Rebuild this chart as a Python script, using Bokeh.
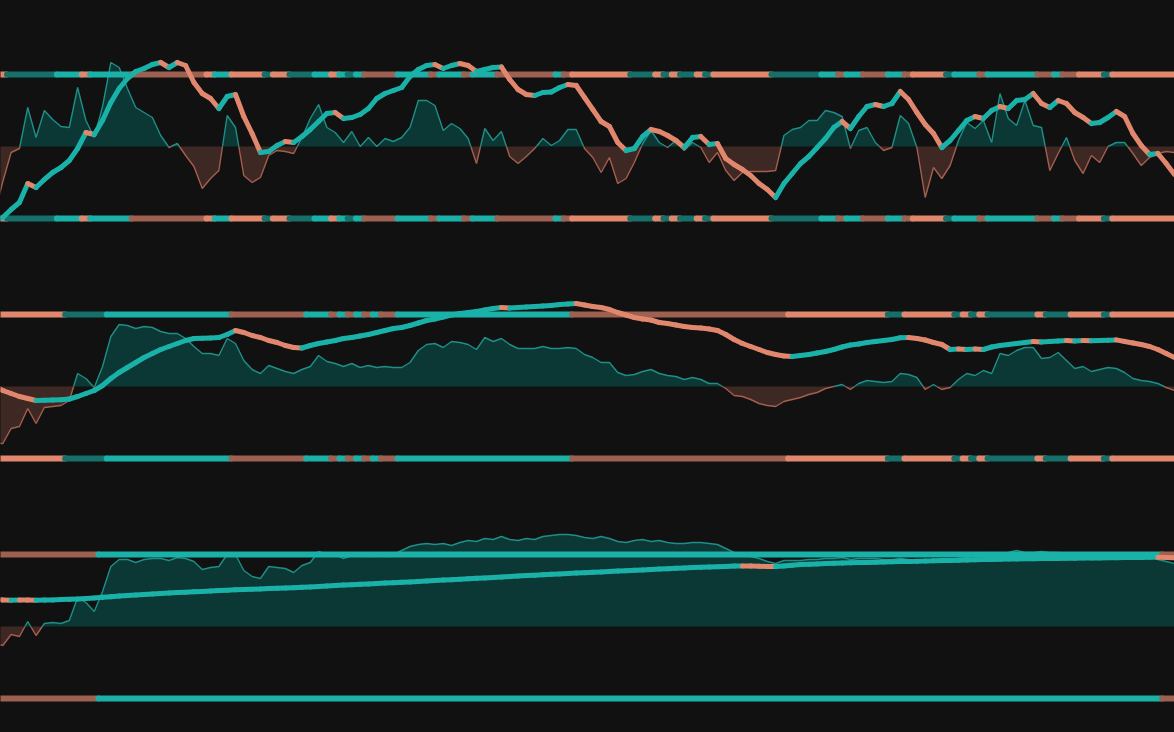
import math
from jinja2 import Template
from bokeh.plotting import figure
from bokeh.models import Range1d
from bokeh.embed import file_html
from bokeh.resources import INLINE

N = 143
IDX = list(range(N))
BAND_LEVEL = 72

# ---------------- panel 1 ----------------
OSC1 = [-68, -35, -6, -2, 39, 9, 36, 27, 20, 19,
        59, 26, 9, 40, 84, 79, 58, 39, 34, 29,
        11, -1, 3, -9, -20, -42, -32, -24, 31, 19,
        -29, -36, -31, -9, -4, -5, -7, 9, 28, 42,
        19, 14, 4, 15, 0, 9, 0, 8, 5, 9,
        19, 46, 46, 41, 16, 23, 18, 8, -17, 18,
        6, 15, -10, -17, -10, -2, 8, 1, 6, 17,
        17, -2, -11, -26, -11, -37, -32, -16, 3, 16,
        4, -1, 6, -4, 4, -1, -16, -6, -24, -34,
        -26, -25, -25, -25, -24, 11, 17, 19, 26, 26,
        36, 34, 30, -2, 16, 19, 4, -4, -1, 31,
        23, -1, -51, -21, -32, -19, 6, 24, 18, 26,
        4, 53, 28, 21, 46, 21, 19, -24, -7, 9,
        -14, -27, -9, -16, 0, 4, 4, -7, -19, -11,
        -7, -5, -6]
LINE1 = [-74, -71, -63, -56, -37, -41, -33, -26, -21, -14,
         -2, 14, 12, 26, 44, 58, 68, 75, 78, 82,
         84, 79, 84, 81, 64, 53, 48, 38, 50, 52,
         30, 13, -6, -5, 1, 5, 4, 10, 17, 25,
         33, 34, 28, 29, 32, 38, 48, 53, 56, 59,
         70, 77, 81, 82, 78, 81, 83, 81, 75, 77,
         79, 79.5, 67, 57, 52, 51, 54, 54.5, 59, 62,
         61, 49, 37, 25, 20, 4, -4, -2, 10, 17,
         15, 11, 6, -1, 9, 10, 2, 3, -12, -18,
         -23, -29, -37, -43, -51, -37, -27, -17, -10, -1,
         8, 19, 25, 18, 30, 40, 42, 40, 43, 55,
         47, 34, 22, 13, -1, 6, 16, 26, 30, 28,
         36, 40, 38, 46, 47, 53, 43, 39, 46, 43,
         34, 29, 23, 24, 29, 35, 30, 13, 1, -8,
         -7, -17, -28]
BAND1 = ("SS" "tttttt" "TTT" "S" "TTTTT" "sssssssss" "S" "TT" "SSSS" "t"
         "SS" "ttt" "TT" "S" "T" "t" "T" "ssss" "TTTT" "s" "TTT" "s" "TTT"
         "sssssss" "T" "s" "SSSSSSS" "ttt" "S" "t" "S" "tt" "S" "t"
         "SSSSSSS" "tttttt" "TT" "s" "TT" "sss" "TT" "s" "SSSS" "t" "TTT"
         "s" "TTTTTT" "ss" "T" "ss" "SSS" "t" "SSSSSSSS")

# ---------------- panel 2 ----------------
OSC2 = [-57, -57, -42, -40, -22, -37, -21, -20, -19, -14,
        13, 8, -1, 20, 50, 62, 61, 58, 60, 59,
        55, 53, 53, 48, 40, 33, 33, 31, 48, 43,
        26, 17, 13, 21, 18, 15, 13, 17, 20, 31,
        25, 23, 20, 23, 19, 21, 19, 20, 19, 19,
        24, 36, 42, 43, 39, 45, 44, 42, 37, 49,
        45, 48, 42, 38, 38, 38, 40, 38, 38, 39,
        38, 32, 29, 24, 24, 14, 11, 12, 15, 17,
        13, 11, 10, 7, 9, 7, 3, 3, -2, -9,
        -10, -13, -17, -19, -20, -15, -13, -11, -8, -6,
        -2, 0, 2, -3, 3, 6, 5, 4, 5, 13,
        12, 9, -3, 2, -3, -1, 7, 13, 11, 16,
        13, 33, 31, 36, 39, 39, 28, 29, 34, 26,
        18, 20, 15, 17, 19, 18, 14, 8, 6, 5,
        3, -1, -4]
LINE2 = [0, -4, -7, -10, -12, -14, -13.8, -13.6, -13.3, -12.5,
         -10, -7, -4, 1, 8, 14, 19, 24, 29, 33,
         37, 40, 43, 46, 48, 48.3, 48.6, 49, 52, 56,
         54, 51, 49, 46, 44, 41, 39, 38.5, 41, 43,
         44.5, 46, 48, 49, 50.5, 52, 54, 56, 58, 59,
         61, 63.5, 66, 67.5, 69.5, 71.5, 73, 74, 75, 76.5,
         78, 79, 78.5, 79, 79.5, 80, 80.5, 81, 82, 82.5,
         83, 81.5, 80, 79, 77, 74, 71.5, 69, 67.5, 66.5,
         64, 63, 61.5, 60, 59, 58.5, 57.5, 56, 52, 47,
         43, 40, 37, 34, 32, 30.5, 30, 31, 32, 33.5,
         35, 37, 39.5, 41.5, 42.5, 44, 45, 46, 47, 48.8,
         49, 48, 46.5, 44, 42, 37, 37.5, 37, 37.5, 37,
         39.5, 41, 42, 43, 44, 45, 44.5, 45, 45.5, 46,
         45.5, 46, 45.7, 46, 46.3, 46.6, 45, 43.5, 42, 40,
         37, 33, 29]
BAND2 = ("SSSSSSSSS" "ttttt" "TTTTTTTTTTTTTTT" "sssssssss" "TTT" "s" "T" "s"
         "T" "s" "T" "ss" "TTTTTTTTTTTTTTTTTTTTT" "ssssssssssssssssssssssssss"
         "SSSSSSSSSSSS" "tt" "SSSSSS" "t" "S" "t" "S" "tttttt" "S" "ttt"
         "SSSS" "t" "SSSSSSSS")

# ---------------- panel 3 ----------------
OSC3 = [-17, -19, -8, -10, 5, -9, 3, 4, 3, 6,
        29, 24, 15, 35, 60, 67, 67, 64, 67, 68,
        68, 66, 69, 68, 65, 57, 59, 60, 72, 72,
        56, 50, 48, 60, 59, 58, 54, 61, 64, 75,
        72, 72, 68, 71, 72, 70, 72, 70, 72, 76,
        80, 82, 83, 82, 83, 81, 84, 86, 85, 88,
        87, 90, 87, 86, 88, 87, 90, 91, 92, 92,
        91, 89, 88, 90, 88, 85, 84, 86, 87, 85,
        86, 84, 83, 83, 84, 84, 83, 82, 78, 74,
        72, 70, 68, 65, 63, 66, 66, 66, 67, 67,
        68, 68, 69, 67, 68, 68, 68, 67, 67, 68,
        67, 65, 66, 66, 66, 67, 68, 69, 71, 72,
        74, 73, 74, 76, 74, 74, 75, 74, 74, 73,
        73, 72, 71, 73, 72, 71, 72, 71, 72, 70,
        67, 65, 63]
LINE3 = [27.0, 26.6, 26.3, 26.5, 26.4, 26.2, 26.4, 26.6, 26.9, 27.2,
         27.6, 28.1, 28.6, 29.2, 29.8, 30.4, 31.0, 31.6, 32.1, 32.6,
         33.1, 33.5, 33.9, 34.3, 34.7, 35.1, 35.5, 35.9, 36.3, 36.7,
         37.0, 37.3, 37.6, 37.9, 38.2, 38.5, 38.8, 39.2, 39.6, 40.0,
         40.5, 41.0, 41.4, 41.8, 42.2, 42.6, 43.0, 43.4, 43.8, 44.2,
         44.6, 45.0, 45.5, 45.9, 46.4, 46.8, 47.3, 47.7, 48.2, 48.6,
         49.1, 49.5, 50.0, 50.4, 50.9, 51.3, 51.8, 52.2, 52.6, 53.0,
         53.4, 53.8, 54.2, 54.6, 55.0, 55.4, 55.8, 56.2, 56.6, 57.0,
         57.4, 57.8, 58.2, 58.6, 58.9, 59.2, 59.5, 59.8, 60.1, 60.4,
         60.6, 60.4, 60.2, 60.0, 59.9, 60.6, 61.3, 61.9, 62.3, 62.6,
         62.9, 63.2, 63.5, 63.7, 63.9, 64.1, 64.3, 64.5, 64.7, 64.9,
         65.1, 65.3, 65.5, 65.7, 65.9, 66.1, 66.3, 66.5, 66.7, 66.9,
         67.1, 67.3, 67.5, 67.6, 67.7, 67.8, 67.9, 68.0, 68.1, 68.2,
         68.3, 68.4, 68.5, 68.6, 68.7, 68.8, 68.9, 69.0, 69.1, 69.2,
         69.3, 69.1, 68.8]
BAND3 = "s" * 13 + "T" * 128 + "ss"

# ---------------- styling ----------------
BG = "#111111"
TEAL = "#1ab2a8"
TEAL_DARK = "#16706a"
SALMON = "#e0876d"
BROWN = "#9e6050"
OSC_UP = "#1f8e87"
OSC_DN = "#a55e4e"
FILL_UP = "#0b3835"
FILL_DN = "#3e2824"
STATE_COLORS = {"T": TEAL, "t": TEAL_DARK, "S": SALMON, "s": BROWN}

p = figure(width=1174, height=732, x_range=Range1d(0.72, 142.0),
           y_range=Range1d(-586, 146), output_backend="svg",
           toolbar_location=None, min_border=0,
           x_axis_location=None, y_axis_location=None,
           background_fill_color=BG, border_fill_color=BG,
           outline_line_color=None)
p.grid.visible = False
p.extra_y_ranges = {"p2": Range1d(-346, 386), "p3": Range1d(-106, 626)}


def with_crossings(xv, yv):
    xs, ys = [], []
    for k in range(len(xv) - 1):
        xs.append(float(xv[k]))
        ys.append(float(yv[k]))
        a, b = yv[k], yv[k + 1]
        if a * b < 0:
            t = a / (a - b)
            xs.append(xv[k] + t * (xv[k + 1] - xv[k]))
            ys.append(0.0)
    xs.append(float(xv[-1]))
    ys.append(float(yv[-1]))
    return xs, ys


def draw_panel(osc, line, band, rn):
    assert len(osc) == N and len(line) == N and len(band) == N
    xs, ys = with_crossings(IDX, osc)
    up = [max(v, 0.0) for v in ys]
    dn = [min(v, 0.0) for v in ys]
    p.varea(x=xs, y1=0, y2=up, fill_color=FILL_UP, y_range_name=rn)
    p.varea(x=xs, y1=0, y2=dn, fill_color=FILL_DN, y_range_name=rn)
    p.line(xs, [v if v >= 0 else float("nan") for v in ys],
           line_color=OSC_UP, line_width=1.4, y_range_name=rn)
    p.line(xs, [v if v <= 0 else float("nan") for v in ys],
           line_color=OSC_DN, line_width=1.4, y_range_name=rn)

    # state bands (runs of equal state)
    runs = []
    start = 0
    for k in range(1, N + 1):
        if k == N or band[k] != band[start]:
            runs.append((start, k - 1, band[start]))
            start = k
    for lvl in (BAND_LEVEL, -BAND_LEVEL):
        p.segment(x0=[a - 0.5 for a, b, s in runs], y0=[lvl] * len(runs),
                  x1=[b + 0.5 for a, b, s in runs], y1=[lvl] * len(runs),
                  line_color=[STATE_COLORS[s] for a, b, s in runs],
                  line_width=6, line_cap="round", y_range_name=rn)

    # thick trend line coloured by direction
    cols = []
    prev = TEAL
    for k in range(N - 1):
        if line[k + 1] > line[k]:
            prev = TEAL
        elif line[k + 1] < line[k]:
            prev = SALMON
        cols.append(prev)
    p.segment(x0=IDX[:-1], y0=line[:-1], x1=IDX[1:], y1=line[1:],
              line_color=cols, line_width=5, line_cap="round",
              y_range_name=rn)


draw_panel(OSC1, LINE1, BAND1, "default")
draw_panel(OSC2, LINE2, BAND2, "p2")
draw_panel(OSC3, LINE3, BAND3, "p3")

PAGE = Template("""<!DOCTYPE html>
<html lang="en">
<head>
<meta charset="utf-8">
<title>{{ title }}</title>
<style>html, body { margin: 0; padding: 0; background: #111111; overflow: hidden; }</style>
{{ bokeh_css }}
{{ bokeh_js }}
</head>
<body>
{{ plot_div }}
{{ plot_script }}
</body>
</html>
""")

open("out.html", "w").write(file_html(p, INLINE, template=PAGE))
